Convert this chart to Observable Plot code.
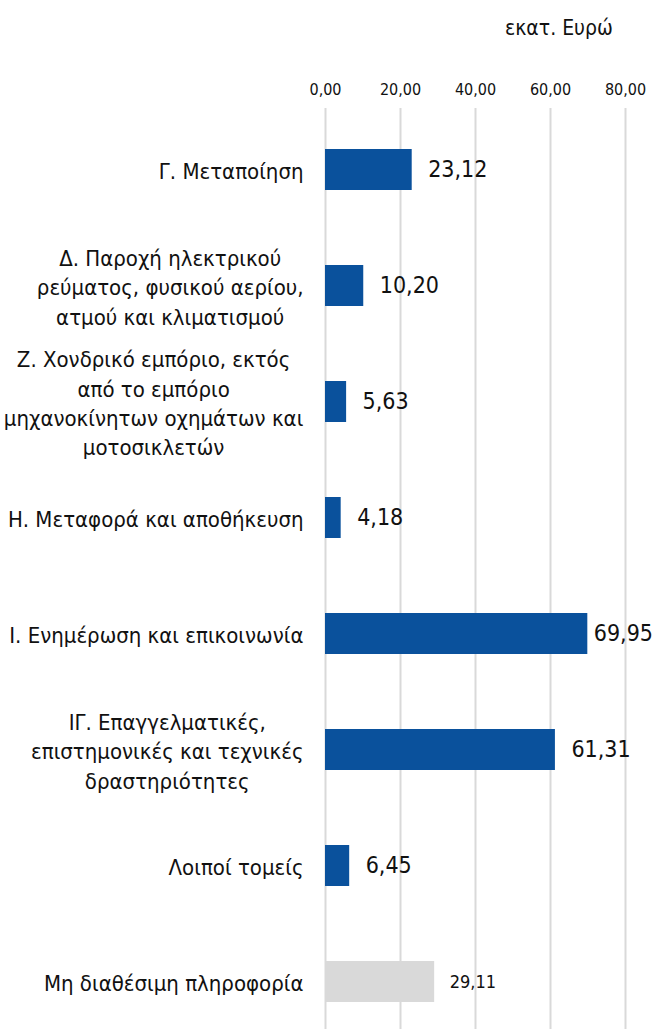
<!DOCTYPE html>
<html>
<head>
<meta charset="utf-8">
<script src="https://cdn.jsdelivr.net/npm/d3@7"></script>
<script src="https://cdn.jsdelivr.net/npm/@observablehq/plot@0.6"></script>
<style>
  html, body { margin: 0; padding: 0; background: #fff; }
  body { width: 654px; overflow: hidden; font-family: "DejaVu Sans Condensed", sans-serif; }
  #head { position: relative; height: 50px; }
  #unit { position: absolute; left: 505px; top: 16px; font-size: 21px; color: #111; white-space: nowrap; }
</style>
</head>
<body>
<div id="head"><span id="unit">εκατ. Ευρώ</span></div>
<div id="chart"></div>
<script>
const categories = [
  "Γ. Μεταποίηση",
  "Δ. Παροχή ηλεκτρικού\nρεύματος, φυσικού αερίου,\nατμού και κλιματισμού",
  "Ζ. Χονδρικό εμπόριο, εκτός\nαπό το εμπόριο\nμηχανοκίνητων οχημάτων και\nμοτοσικλετών",
  "Η. Μεταφορά και αποθήκευση",
  "Ι. Ενημέρωση και επικοινωνία",
  "ΙΓ. Επαγγελματικές,\nεπιστημονικές και τεχνικές\nδραστηριότητες",
  "Λοιποί τομείς",
  "Μη διαθέσιμη πληροφορία"
];
const values = [23.12, 10.20, 5.63, 4.18, 69.95, 61.31, 6.45, 29.11];
const unavailable = [false, false, false, false, false, false, false, true];
const xTicks = [0, 20, 40, 60, 80];

const data = categories.map((c, i) => ({cat: c, v: values[i], na: unavailable[i]}));
const fmt = v => d3.format(".2f")(v).replace(".", ",");
const blue = "#0a519c", grey = "#d9d9d9";
const W = 654;

const chart = Plot.plot({
  width: W,
  height: 991,
  marginTop: 58,
  marginLeft: 325,
  marginRight: 29,
  marginBottom: 0,
  style: {fontFamily: '"DejaVu Sans Condensed", sans-serif', color: "#111", background: "#fff"},
  x: {domain: [0, 80], axis: null, label: null},
  y: {domain: categories, range: [60, 991], paddingInner: 0.65, paddingOuter: 0.325, axis: null, label: null},
  marks: [
    Plot.gridX(xTicks, {stroke: "#d9d9d9", strokeOpacity: 1, strokeWidth: 2}),
    Plot.axisX(xTicks, {anchor: "top", label: null, tickSize: 0, tickPadding: 14, fontSize: 16, tickFormat: fmt, color: "#111"}),
    Plot.barX(data, {y: "cat", x: "v", fill: d => d.na ? grey : blue}),
    Plot.axisY(categories, {anchor: "left", label: null, tickSize: 0, tickPadding: 22, fontSize: 22, lineHeight: 1.33, textAnchor: "end", color: "#111"}),
    Plot.text(data.filter(d => !d.na), {y: "cat", x: "v", text: d => fmt(d.v), textAnchor: "start", dx: 16, fontSize: 23, fill: "#111", className: "vlab"}),
    Plot.text(data.filter(d => d.na), {y: "cat", x: "v", text: d => fmt(d.v), textAnchor: "start", dx: 15, fontSize: 18, fill: "#111"})
  ]
});
document.getElementById("chart").appendChild(chart);

// center multi-line category labels within their block (Excel style), keeping right edge
chart.querySelectorAll('g[aria-label="y-axis tick label"] text').forEach(t => {
  const tsp = t.querySelectorAll("tspan");
  if (tsp.length < 2) return;
  const w = t.getBBox().width;
  t.setAttribute("text-anchor", "middle");
  tsp.forEach(s => s.setAttribute("x", -w / 2));
});
// keep value labels inside the chart, as the original does
chart.querySelectorAll("g.vlab text").forEach(t => {
  const b = t.getBBox();
  const m = t.getCTM();
  const right = m.e + b.x + b.width;
  if (right > W - 1) {
    const shift = right - (W - 1);
    const x0 = +t.getAttribute("x");
    t.setAttribute("x", x0 - shift);
  }
});
</script>
</body>
</html>
